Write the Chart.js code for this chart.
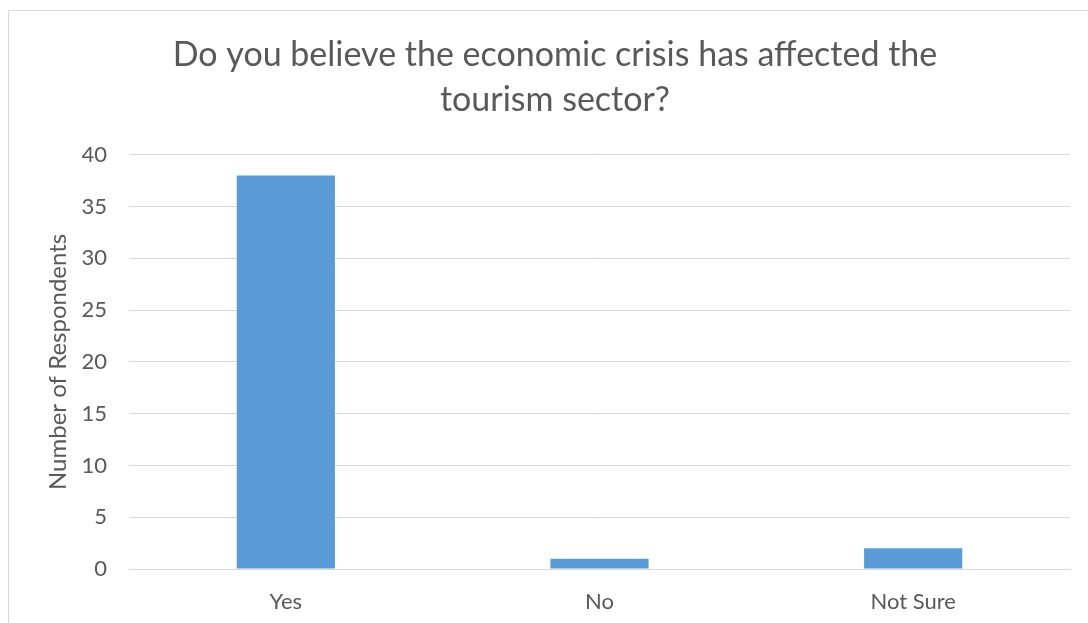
<!DOCTYPE html>
<html>
<head>
<meta charset="utf-8">
<script src="https://cdn.jsdelivr.net/npm/chart.js@4.4.1/dist/chart.umd.min.js"></script>
<style>
  html,body{margin:0;padding:0;background:#fff;overflow:hidden;}
  #wrap{position:relative;width:1088px;height:623px;}
  #frame{position:absolute;left:8px;top:10px;width:1200px;height:800px;border:1px solid #D9D9D9;box-sizing:border-box;}
  canvas{position:absolute;left:0;top:0;}
</style>
</head>
<body>
<div id="wrap">
  <div id="frame"></div>
  <canvas id="c" width="1088" height="623"></canvas>
</div>
<script>
const categories = ["Yes", "No", "Not Sure"];
const respondents = [38, 1, 2];
const titleLines = ["Do you believe the economic crisis has affected the", "tourism sector?"];
const yAxisTitle = "Number of Respondents";
const yMin = 0, yMax = 40, yStep = 5;

const FONT = "Lato, 'Open Sans', 'Noto Sans', sans-serif";
const TEXT = "#595959";
const GRID = "#D9D9D9";

new Chart(document.getElementById("c"), {
  type: "bar",
  data: {
    labels: categories,
    datasets: [{
      data: respondents,
      backgroundColor: "#5B9BD5",
      borderWidth: 0,
      categoryPercentage: 1,
      barPercentage: 0.313
    }]
  },
  options: {
    responsive: false,
    animation: false,
    events: [],
    layout: { padding: { left: 40, right: 18, top: 0, bottom: 0 } },
    plugins: {
      legend: { display: false },
      tooltip: { enabled: false },
      title: {
        display: true,
        text: titleLines,
        color: TEXT,
        font: { family: FONT, size: 34, weight: "normal", lineHeight: 1.32 },
        padding: { top: 33, bottom: 32 }
      }
    },
    scales: {
      x: {
        grid: { display: false, drawTicks: false },
        border: { display: true, color: GRID, width: 1 },
        ticks: { color: TEXT, font: { family: FONT, size: 22 }, padding: 20 },
        afterFit(s) { s.height = 54; }
      },
      y: {
        min: yMin, max: yMax,
        grid: { color: GRID, lineWidth: 1, drawTicks: false },
        border: { display: false },
        ticks: { stepSize: yStep, color: TEXT, font: { family: FONT, size: 22 }, padding: 22 },
        title: {
          display: true, text: yAxisTitle, color: TEXT,
          font: { family: FONT, size: 24 }, padding: { top: 4, bottom: 0 }
        },
        afterFit(s) { s.width = 89; }
      }
    }
  }
});
</script>
</body>
</html>
